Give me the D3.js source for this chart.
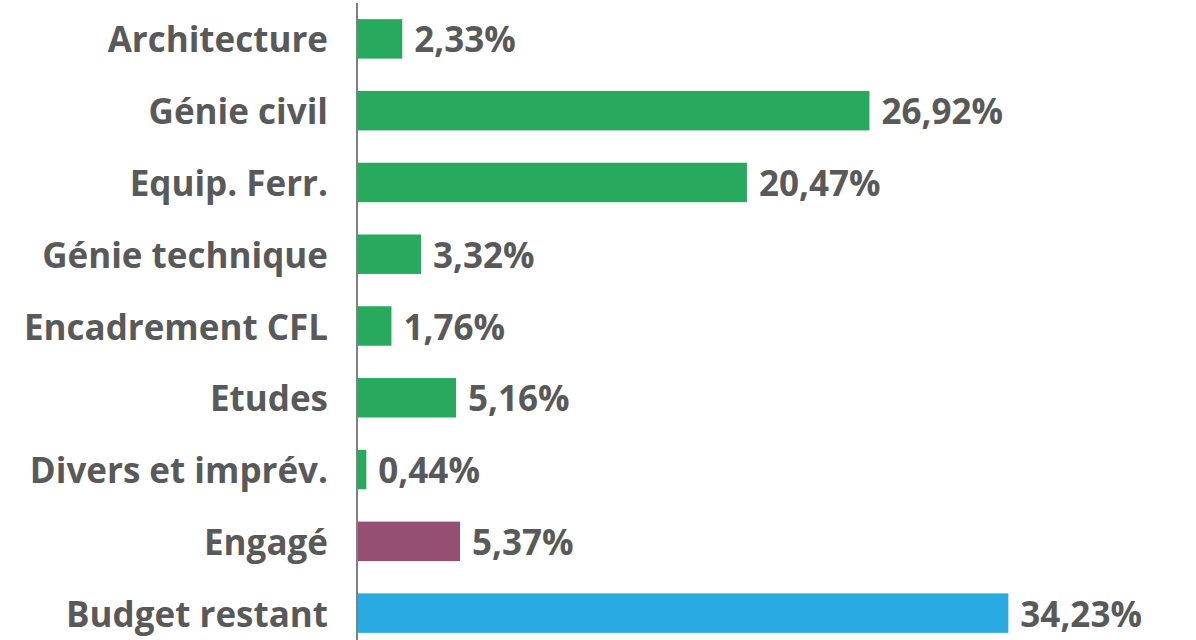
<!DOCTYPE html>
<html>
<head>
<meta charset="utf-8">
<script src="https://cdn.jsdelivr.net/npm/d3@7"></script>
<style>
  html, body { margin: 0; padding: 0; background: #fff; }
  svg { display: block; }
</style>
</head>
<body>
<svg id="chart" width="1196" height="640"></svg>
<script>
// catégories et valeurs (%)
var categories = ["Architecture", "Génie civil", "Equip. Ferr.", "Génie technique",
                  "Encadrement CFL", "Etudes", "Divers et imprév.", "Engagé", "Budget restant"]
var values = [2.33, 26.92, 20.47, 3.32, 1.76, 5.16, 0.44, 5.37, 34.23]
var groups = ["g", "g", "g", "g", "g", "g", "g", "e", "b"]

var colors = { g: "#27AA5E", e: "#954F72", b: "#29ABE2" }
var textColor = "#595959"
var fontFamily = "'Open Sans', sans-serif"

var svg = d3.select("#chart")

var axisX = 358

var x = d3.scaleLinear()
          .domain([0, 35])
          .range([axisX, axisX + 665])

var y = d3.scaleBand()
          .domain(categories)
          .range([3, 649])
          .paddingInner(0.45)
          .paddingOuter(0.225)

// barres
svg.append("g")
   .selectAll("rect")
   .data(values)
   .join("rect")
   .attr("x", x(0))
   .attr("y", function (d, i) { return y(categories[i]) })
   .attr("width", function (d) { return x(d) - x(0) })
   .attr("height", y.bandwidth())
   .attr("fill", function (d, i) { return colors[groups[i]] })

// axe vertical
svg.append("line")
   .attr("x1", axisX - 1)
   .attr("x2", axisX - 1)
   .attr("y1", 3)
   .attr("y2", 640)
   .attr("stroke", "#808080")
   .attr("stroke-width", 2)

// libellés des catégories
svg.append("g")
   .selectAll("text")
   .data(categories)
   .join("text")
   .attr("x", 328)
   .attr("y", function (d) { return y(d) + y.bandwidth() / 2 })
   .attr("text-anchor", "end")
   .attr("dominant-baseline", "central")
   .attr("font-family", fontFamily)
   .attr("font-weight", "bold")
   .attr("font-size", 35)
   .attr("fill", textColor)
   .text(function (d) { return d })

// valeurs
svg.append("g")
   .selectAll("text")
   .data(values)
   .join("text")
   .attr("x", function (d) { return x(d) + 12 })
   .attr("y", function (d, i) { return y(categories[i]) + y.bandwidth() / 2 })
   .attr("dominant-baseline", "central")
   .attr("font-family", fontFamily)
   .attr("font-weight", "bold")
   .attr("font-size", 35)
   .attr("fill", textColor)
   .text(function (d) { return d.toFixed(2).replace(".", ",") + "%" })
</script>
</body>
</html>
